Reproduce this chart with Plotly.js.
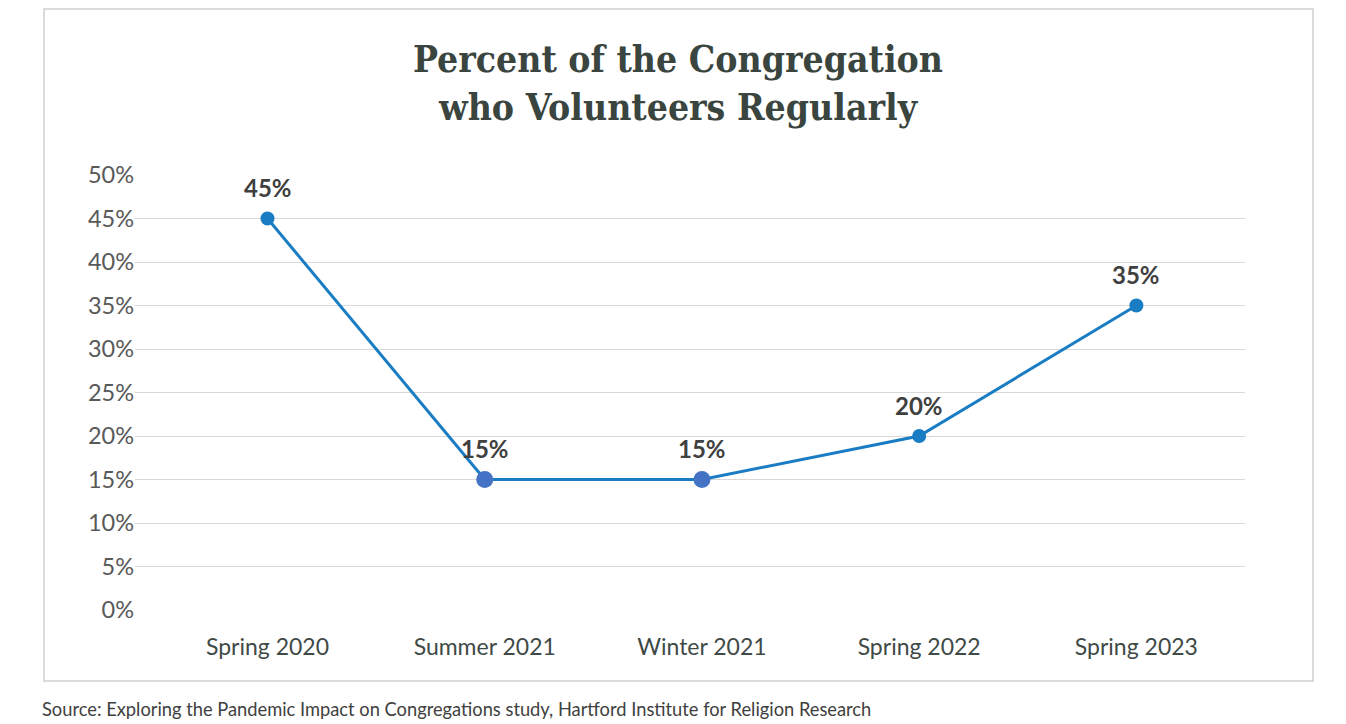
<!DOCTYPE html>
<html>
<head>
<meta charset="utf-8">
<script src="https://cdn.plot.ly/plotly-3.0.1.min.js"></script>
<style>html,body{margin:0;padding:0;background:#fff;}#chart{width:1346px;height:724px;}</style>
</head>
<body>
<div id="chart"></div>
<script>
const categories = ["Spring 2020", "Summer 2021", "Winter 2021", "Spring 2022", "Spring 2023"];
const values = [45, 15, 15, 20, 35];
const labels = ["45%", "15%", "15%", "20%", "35%"];
const yTickVals = [0, 5, 10, 15, 20, 25, 30, 35, 40, 45, 50];
const yTickText = ["0%", "5%", "10%", "15%", "20%", "25%", "30%", "35%", "40%", "45%", "50%"];
const markerColors = ["#1a7dc4", "#4472c4", "#4472c4", "#1a7dc4", "#1a7dc4"];
const markerSizes = [14, 17, 17, 14, 14];

const trace = {
  x: categories.map((c, i) => i),
  y: values,
  type: "scatter",
  mode: "lines+markers",
  line: {color: "#1a7dc4", width: 3},
  marker: {color: markerColors, size: markerSizes, opacity: 1, line: {width: 0}},
  hoverinfo: "skip"
};

const annotations = values.map((v, i) => ({
  x: i, y: v, xref: "x", yref: "y",
  text: labels[i], showarrow: false,
  yshift: 31,
  font: {family: "Lato, sans-serif", size: 24, color: "#404040", weight: "bold"}
}));

annotations.push({
  xref: "paper", yref: "paper", x: 0.489, y: (610 - 83) / 435, xanchor: "center", yanchor: "middle",
  text: "<b>Percent of the Congregation<br>who Volunteers Regularly</b>", showarrow: false,
  font: {family: "DejaVu Serif Condensed, DejaVu Serif, serif", size: 37, color: "#3a4540"}
});
annotations.push({
  xref: "paper", yref: "paper", x: (40 - 135) / 1110, y: (610 - 709) / 435, xanchor: "left", yanchor: "middle",
  text: "Source: Exploring the Pandemic Impact on Congregations study, Hartford Institute for Religion Research",
  showarrow: false,
  font: {family: "Lato, sans-serif", size: 18.3, color: "#404040"}
});

const layout = {
  width: 1346, height: 724,
  margin: {l: 135, r: 101, t: 175, b: 114, pad: 0},
  paper_bgcolor: "#ffffff", plot_bgcolor: "#ffffff",
  showlegend: false,
  xaxis: {
    range: [-0.61, 4.5],
    tickvals: categories.map((c, i) => i),
    ticktext: categories,
    showgrid: false, zeroline: false, showline: false,
    ticks: "outside", ticklen: 16, tickcolor: "rgba(0,0,0,0)",
    tickfont: {family: "Lato, sans-serif", size: 23, color: "#3f4a47"},
    fixedrange: true
  },
  yaxis: {
    range: [0, 50],
    tickvals: yTickVals, ticktext: yTickText,
    showgrid: true, gridcolor: "#d9d9d9", gridwidth: 1,
    zeroline: false, showline: false,
    ticks: "",
    tickfont: {family: "Lato, sans-serif", size: 23.5, color: "#595959"},
    fixedrange: true
  },
  shapes: [{
    type: "rect", xref: "paper", yref: "paper",
    x0: (44 - 135) / 1110, x1: (1313 - 135) / 1110,
    y0: (610 - 681) / 435, y1: (610 - 9) / 435,
    line: {color: "#d0d0d0", width: 1.5}, fillcolor: "rgba(0,0,0,0)", layer: "below"
  }],
  annotations: annotations
};

Plotly.newPlot("chart", [trace], layout, {displayModeBar: false, staticPlot: true});
</script>
</body>
</html>
